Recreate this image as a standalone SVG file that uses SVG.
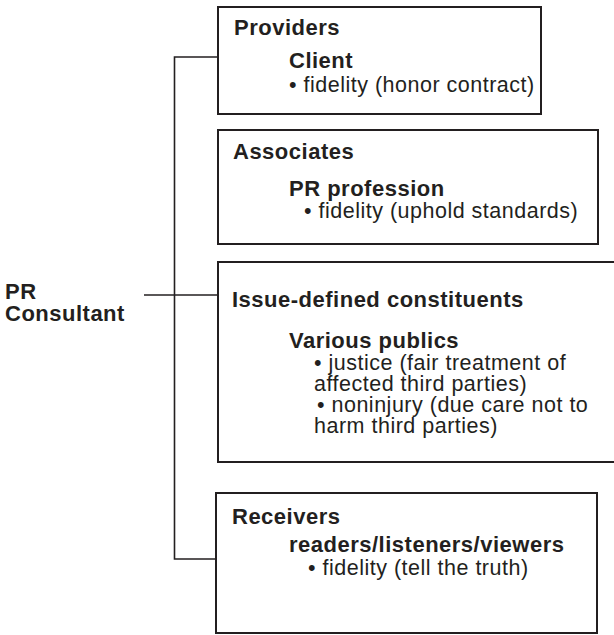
<svg xmlns="http://www.w3.org/2000/svg" width="614" height="635" viewBox="0 0 614 635">
<style>
  .box { fill: #ffffff; stroke: #231f20; stroke-width: 2; }
  .conn { fill: none; stroke: #231f20; stroke-width: 1.6; }
  text { font-family: "Liberation Sans", Arial, Helvetica, sans-serif; fill: #231f20; font-size: 21.5px; letter-spacing: 0.5px; }
  .b { font-weight: bold; font-size: 22px; }
</style>
<rect width="614" height="635" fill="#ffffff"/>
<g id="connectors">
  <path class="conn" d="M218,57 H174.5 V559 H216"/>
  <path class="conn" d="M144,295 H218"/>
</g>
<g id="pr-consultant">
  <text class="b" x="5" y="299">PR</text>
  <text class="b" x="5" y="321">Consultant</text>
</g>
<g id="providers">
  <rect class="box" x="218" y="7" width="323" height="107"/>
  <text class="b" x="234" y="35">Providers</text>
  <text class="b" x="289" y="68">Client</text>
  <text x="289" y="92">• fidelity (honor contract)</text>
</g>
<g id="associates">
  <rect class="box" x="218" y="130" width="380" height="114"/>
  <text class="b" x="233" y="159">Associates</text>
  <text class="b" x="289" y="196">PR profession</text>
  <text x="304" y="218">• fidelity (uphold standards)</text>
</g>
<g id="issue-defined">
  <rect class="box" x="218" y="262" width="400" height="200"/>
  <text class="b" x="232" y="307">Issue-defined constituents</text>
  <text class="b" x="289" y="348">Various publics</text>
  <text x="314" y="370">• justice (fair treatment of</text>
  <text x="314" y="391">affected third parties)</text>
  <text x="317" y="412">• noninjury (due care not to</text>
  <text x="314" y="433">harm third parties)</text>
</g>
<g id="receivers">
  <rect class="box" x="216" y="493" width="381" height="140"/>
  <text class="b" x="232" y="524">Receivers</text>
  <text class="b" x="289" y="552">readers/listeners/viewers</text>
  <text x="308" y="575">• fidelity (tell the truth)</text>
</g>
</svg>
